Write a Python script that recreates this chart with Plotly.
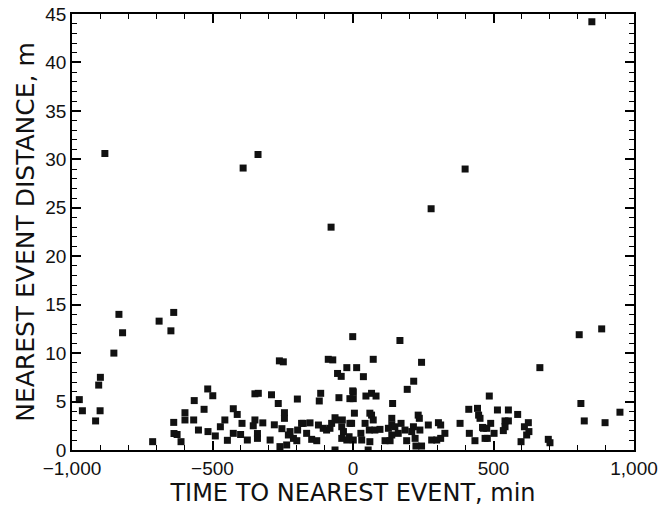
import plotly.graph_objects as go

# time to nearest event (min) and nearest event distance (m)
time_min = [
    -883, -391, -338, -78, 278, 399, 850,
    -974, -963, -916, -905, -899, -900, -851, -833, -820, -713, -690, -648, -638,
    -638, -637, -626, -612, -598, -598, -565, -567, -550,
    -530, -517, -499, -516, -490, -472, -456, -447, -426, -412, -426, -400, -395,
    -376, -349, -337, -349, -355, -340,
    -340, -321, -290, -295, -266, -262, -248, -244, -244, -280, -253, -260, -236,
    -230, -224, -212, -197, -198, -177, -200, -165, -153, -147, -129, -123, -120,
    -115, -106, -88, -72, -94, -76, -62, -55, -42, -50, -64, -40, -34, -22, -22,
    -11, -11,
    37, 1, 1, 46, -183, -64, -38, 5, 60, -5, 43, -82, -40, -14, 1, 28, 31, 58,
    60, 54,
    216, 193, 66, 82, 141, 66, 72, 138, 138, 171, 232, 236, 268, 304, 312, 381,
    412, 443, 447, 452, 464, 485, 78, 96, 126, 149, 161, 185, 209, 215, 238, 114,
    132, 138, 191, 221, 244, 224, 280, 298, 312, 327, 414, 434, 470,
    -1, 167, 72, 13, 244, -1, 514, 461, 490, 502, 478,
    553, 586, 476, 541, 553, 541, 535, 624, 610, 626, 618, 598, 695, 701, 665,
    811, 823, 897, 805, 885, 950,
]
distance_m = [
    30.6, 29.1, 30.5, 23.0, 24.9, 29.0, 44.2,
    5.2, 4.05, 3.0, 6.7, 7.5, 4.05, 10.0, 14.0, 12.1, 0.86, 13.3, 12.3, 14.2,
    2.85, 1.7, 1.6, 0.86, 3.85, 3.1, 5.1, 3.1, 2.06,
    4.2, 6.3, 5.6, 1.9, 1.45, 2.4, 3.1, 1.0, 4.26, 3.67, 1.72, 1.6, 2.75,
    1.03, 5.8, 5.85, 3.1, 2.5, 1.7,
    1.2, 2.8, 5.7, 1.03, 4.8, 9.2, 9.1, 3.85, 3.27, 2.6, 2.2, 0.35, 0.52,
    1.55, 1.9, 1.2, 2.06, 5.26, 2.75, 0.96, 1.72, 2.8, 1.1, 0.96, 2.58, 5.06,
    5.85, 2.24, 9.36, 9.3, 2.06, 2.75, 3.1, 7.9, 7.6, 5.4, 0.0, 2.4, 1.9, 8.5, 1.03,
    5.3, 2.75,
    7.57, 6.0, 5.3, 5.57, 2.75, 3.33, 3.1, 3.8, 3.8, 2.75, 2.75, 2.24, 1.2, 1.37, 1.03, 1.72, 1.03, 2.06,
    0.86, 0.0,
    7.1, 6.26, 5.85, 5.57, 4.8, 3.6, 3.1, 3.27, 2.58, 2.75, 3.6, 3.27, 2.58, 2.82, 2.58, 2.75,
    4.2, 4.3, 3.6, 3.27, 2.24, 5.57, 2.06, 2.13, 2.24, 2.4, 1.72, 2.06, 1.9, 2.4, 2.06, 0.96,
    0.96, 1.55, 0.96, 1.2, 0.41, 0.41, 1.03, 1.03, 1.2, 1.72, 1.72, 0.96, 1.2,
    11.7, 11.3, 9.36, 8.5, 9.05, 6.1, 4.13, 2.33, 2.75, 1.72, 1.2,
    4.13, 3.67, 2.24, 3.0, 3.0, 2.4, 2.0, 2.82, 2.4, 1.9, 1.55, 0.86, 1.1, 0.75, 8.5,
    4.8, 3.0, 2.82, 11.9, 12.5, 3.9,
]

x_range = [-1000, 1000]
y_range = [0, 45]
x_major, x_minor = 500, 100
y_major, y_minor = 5, 1

tick_font = "Liberation Sans, Arial, sans-serif"
title_font = "DejaVu Sans, sans-serif"
ink = "#000000"
text_ink = "#111111"

fig = go.Figure()
fig.add_trace(go.Scatter(
    x=time_min, y=distance_m, mode="markers",
    marker=dict(symbol="square", size=7, color=text_ink, line=dict(width=0)),
    showlegend=False, hoverinfo="x+y",
))
# hidden copies bound to the tick-only overlay axes so they are rendered
for xa, ya in [("x2", "y2"), ("x3", "y3"), ("x4", "y4")]:
    fig.add_trace(go.Scatter(
        x=time_min, y=distance_m, mode="markers", xaxis=xa, yaxis=ya,
        marker=dict(opacity=0, size=1), showlegend=False, hoverinfo="skip",
    ))

base = dict(showgrid=False, zeroline=False, ticks="inside", tickcolor=ink)
tick_only = dict(base, showticklabels=False, showline=False, title=None)

fig.update_layout(
    template="none",
    width=661, height=508,
    margin=dict(l=72, r=27, t=14, b=58),
    paper_bgcolor="white", plot_bgcolor="white",
    font=dict(family=tick_font, color=text_ink, size=19),
    xaxis=dict(
        base, range=x_range, tickmode="linear", tick0=0, dtick=x_major, tickformat=",",
        showline=True, linecolor=ink, linewidth=1.6, mirror=True,
        ticklen=9, tickwidth=1.7,
        tickfont=dict(family=tick_font, size=19, color=text_ink),
        title=dict(text="TIME TO NEAREST EVENT, min",
                   font=dict(family=title_font, size=24, color=text_ink), standoff=2),
    ),
    yaxis=dict(
        base, range=y_range, tickmode="linear", tick0=0, dtick=y_major,
        showline=True, linecolor=ink, linewidth=1.6, mirror=True,
        ticklen=9, tickwidth=1.7,
        tickfont=dict(family=tick_font, size=19, color=text_ink),
        title=dict(text="NEAREST EVENT DISTANCE, m",
                   font=dict(family=title_font, size=25, color=text_ink), standoff=4),
    ),
    # top / right major ticks
    xaxis2=dict(tick_only, range=x_range, tickmode="linear", tick0=0, dtick=x_major,
                ticklen=9, tickwidth=1.7, overlaying="x", side="top", anchor="y"),
    yaxis2=dict(tick_only, range=y_range, tickmode="linear", tick0=0, dtick=y_major,
                ticklen=9, tickwidth=1.7, overlaying="y", side="right", anchor="x"),
    # bottom / left minor ticks
    xaxis3=dict(tick_only, range=x_range, tickmode="linear", tick0=0, dtick=x_minor,
                ticklen=5, tickwidth=1.2, overlaying="x", side="bottom", anchor="y"),
    yaxis3=dict(tick_only, range=y_range, tickmode="linear", tick0=0, dtick=y_minor,
                ticklen=5, tickwidth=1.2, overlaying="y", side="left", anchor="x"),
    # top / right minor ticks
    xaxis4=dict(tick_only, range=x_range, tickmode="linear", tick0=0, dtick=x_minor,
                ticklen=5, tickwidth=1.2, overlaying="x", side="top", anchor="y"),
    yaxis4=dict(tick_only, range=y_range, tickmode="linear", tick0=0, dtick=y_minor,
                ticklen=5, tickwidth=1.2, overlaying="y", side="right", anchor="x"),
)

fig.write_html("out.html")
